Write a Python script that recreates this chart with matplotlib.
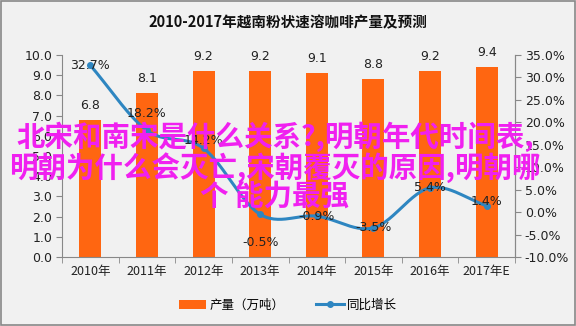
import numpy as np
import matplotlib
matplotlib.use("Agg")
import matplotlib.pyplot as plt
from matplotlib.patches import Patch
from matplotlib.lines import Line2D

plt.rcParams['font.family'] = ['DejaVu Sans', 'Noto Sans CJK SC']

years = ["2010年", "2011年", "2012年", "2013年", "2014年", "2015年", "2016年", "2017年E"]
output = [6.8, 8.1, 9.2, 9.2, 9.1, 8.8, 9.2, 9.4]
growth = [32.7, 18.2, 14.2, -0.5, -0.9, -3.5, 5.4, 1.4]
left_ticks = [0, 1, 2, 3, 4, 5, 6, 7, 8, 9, 10]
right_ticks = [-10, -5, 0, 5, 10, 15, 20, 25, 30, 35]
title = "2010-2017年越南粉状速溶咖啡产量及预测"
legend_labels = ["产量（万吨）", "同比增长"]
overlay = "北宋和南宋是什么关系?,明朝年代时间表,\n明朝为什么会灭亡,宋朝覆灭的原因,明朝哪\n个 能力最强"

BG = "#F1F1F1"
ORANGE = "#FF6611"
BLUE = "#2E86C1"
CJK = ['Noto Sans CJK SC', 'DejaVu Sans']

fig = plt.figure(figsize=(5.76, 3.26), dpi=100, facecolor=BG)
fig.patches.append(plt.Rectangle((0.002, 0.003), 0.996, 0.994, transform=fig.transFigure,
                                 fill=False, edgecolor="#888888", lw=1.2))
ax = fig.add_axes([62/576, 1-257/326, (515-62)/576, (257-55)/326])
ax.set_facecolor(BG)
x = np.arange(len(years))
bars = ax.bar(x, output, width=0.39, color=ORANGE, zorder=2)
ax.set_ylim(0, 10)
ax.set_xlim(-0.5, len(years)-0.5)
ax.set_yticks(left_ticks)
ax.set_yticklabels([f"{v:.1f}" for v in left_ticks], fontsize=9, color="#222222")
ax.set_xticks(x)
ax.set_xticklabels(years, fontsize=9, family=CJK, color="#222222")
ax.set_xticks(np.arange(len(years)+1)-0.5, minor=True)
ax.tick_params(axis='x', which='major', length=0, pad=6)
ax.tick_params(axis='x', which='minor', length=4, direction='out', color="#888888")
ax.tick_params(axis='y', length=4, color="#888888", pad=3)
ax.spines['top'].set_visible(False)
for s in ['left', 'bottom', 'right']:
    ax.spines[s].set_color("#888888")
for xi, v in zip(x, output):
    ax.text(xi, v + 0.4, f"{v:.1f}", ha='center', va='bottom', fontsize=9, color="#222222", zorder=5)

ax2 = ax.twinx()
ax2.set_ylim(-10, 35)
ax2.set_yticks(right_ticks)
ax2.set_yticklabels([f"{v:.1f}%" for v in right_ticks], fontsize=9, color="#222222")
ax2.tick_params(axis='y', length=4, color="#888888", pad=3)
ax2.spines['top'].set_visible(False)
ax2.spines['right'].set_color("#888888")
ax2.spines['left'].set_visible(False)
ax2.spines['bottom'].set_visible(False)

# smoothed line (Catmull-Rom through the data points)
g = np.array(growth, dtype=float)
P = np.column_stack([x.astype(float), g])
P_ext = np.vstack([2*P[0]-P[1], P, 2*P[-1]-P[-2]])
curve = []
for i in range(1, len(P_ext)-2):
    p0, p1, p2, p3 = P_ext[i-1], P_ext[i], P_ext[i+1], P_ext[i+2]
    for t in np.linspace(0, 1, 30):
        c = 0.5*((2*p1) + (-p0+p2)*t + (2*p0-5*p1+4*p2-p3)*t**2 + (-p0+3*p1-3*p2+p3)*t**3)
        curve.append(c)
curve = np.array(curve)
ax2.plot(curve[:, 0], curve[:, 1], color=BLUE, lw=2.2, zorder=3)
ax2.plot(x, g, 'o', color=BLUE, ms=4, zorder=4)
offsets = [(0, 0), (0, 12), (0, 6), (0, -20), (0, 0), (0, 0), (0, 0), (0, 3)]
for xi, v, (dx, dy) in zip(x, growth, offsets):
    ax2.annotate(f"{v:.1f}%", (xi, v), xytext=(dx, dy), textcoords='offset points',
                 ha='center', va='center', fontsize=9, color="#222222", zorder=6)

fig.text(0.5, 1-22/326, title, ha='center', va='center', fontsize=10.5, family=CJK,
         fontweight='bold', color="#111111")

handles = [Patch(facecolor=ORANGE, edgecolor='none'),
           Line2D([0], [0], color=BLUE, lw=2.2, marker='o', ms=4)]
fig.legend(handles, legend_labels, loc='center', bbox_to_anchor=(0.5, 1-305/326), ncol=2,
           frameon=False, prop={'family': CJK, 'size': 9}, handlelength=2.2,
           columnspacing=2.5, handletextpad=0.3)

fig.text(275/576, 1-166/326, overlay, ha='center', va='center', multialignment='center',
         fontsize=20.5, family=CJK, fontweight='bold', color="#F020F0", linespacing=0.98,
         zorder=10)

fig.savefig("out.png", dpi=100, facecolor=BG)
